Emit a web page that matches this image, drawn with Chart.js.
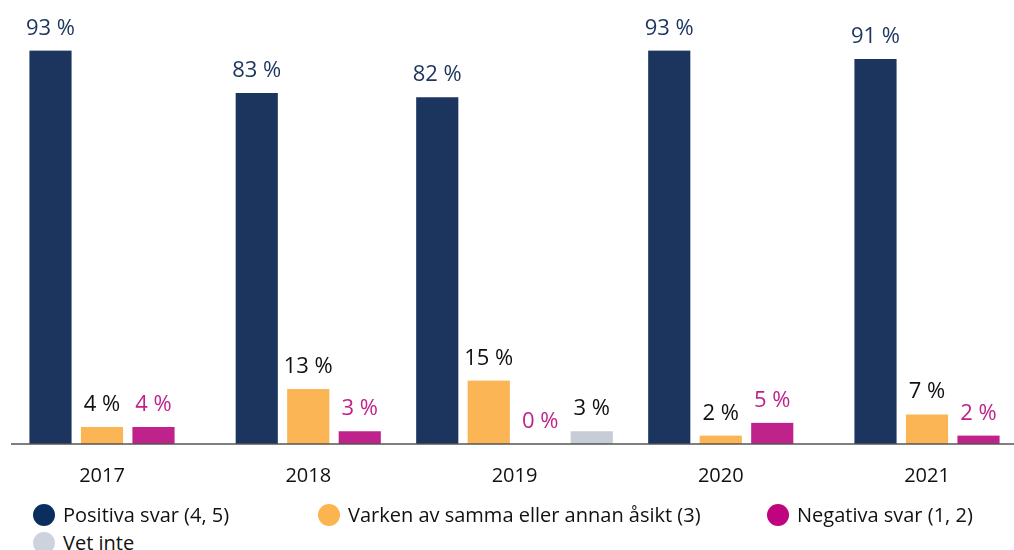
<!DOCTYPE html>
<html lang="sv">
<head>
  <meta charset="UTF-8" />
  <title>Svar per år</title>
  <script src="https://cdn.jsdelivr.net/npm/chart.js"></script>
  <style>
    body { margin: 0; background: #fff; font-family: "Open Sans", sans-serif; }
    #wrap { position: relative; width: 1014px; height: 550px; overflow: hidden; }
    #chart-box { position: absolute; left: 0; top: 0; width: 1014px; height: 520px; }
    #legend { position: absolute; left: 0; top: 502px; width: 1014px; }
    .item { position: absolute; display: flex; align-items: center; font-size: 20px; line-height: 26px; color: #111; white-space: nowrap; }
    .dot { width: 22px; height: 22px; border-radius: 50%; margin-right: 8px; }
  </style>
</head>
<body>
<div id="wrap">
  <div id="chart-box"><canvas id="chart"></canvas></div>
  <div id="legend"></div>
</div>

<script>
  // data
  const years = ["2017", "2018", "2019", "2020", "2021"];
  const positiva = [93, 83, 82, 93, 91];
  const varken   = [4, 13, 15, 2, 7];
  const negativa = [4, 3, 0, 5, 2];
  const vetInte  = [null, null, 3, null, null];

  const seriesNames  = ["Positiva svar (4, 5)", "Varken av samma eller annan åsikt (3)", "Negativa svar (1, 2)", "Vet inte"];
  const barColors    = ["#1c355e", "#fbb555", "#c0228b", "#c6cdd7"];
  const labelColors  = ["#1c355e", "#111111", "#c0228b", "#111111"];
  const legendColors = ["#0b2e5f", "#fbb44f", "#c0047f", "#cdd3dd"];

  // legend positions (left of dot, row top)
  const legendPos = [[33, 0], [318, 0], [767, 0], [33, 28]];

  const valueLabels = {
    id: "valueLabels",
    afterDatasetsDraw(chart) {
      const ctx = chart.ctx;
      ctx.save();
      ctx.font = "22px 'Open Sans', sans-serif";
      ctx.textAlign = "center";
      ctx.textBaseline = "alphabetic";
      chart.data.datasets.forEach((ds, i) => {
        chart.getDatasetMeta(i).data.forEach((bar, j) => {
          const v = ds.data[j];
          if (v === null) return;
          ctx.fillStyle = labelColors[i];
          ctx.fillText(v + " %", bar.x, bar.y - 16);
        });
      });
      // baseline across the full width
      const y0 = chart.scales.y.getPixelForValue(0);
      ctx.strokeStyle = "#555";
      ctx.lineWidth = 1.5;
      ctx.beginPath();
      ctx.moveTo(11, y0);
      ctx.lineTo(chart.width, y0);
      ctx.stroke();
      ctx.restore();
    }
  };

  const allData = [positiva, varken, negativa, vetInte];

  new Chart(document.getElementById("chart"), {
    type: "bar",
    data: {
      labels: years,
      datasets: allData.map((d, i) => ({
        label: seriesNames[i],
        data: d,
        backgroundColor: barColors[i],
        borderColor: "#ffffff",
        borderWidth: { left: 5, right: 5, top: 0, bottom: 0 },
        borderSkipped: "start",
        barThickness: 51.5,
        clip: false
      }))
    },
    options: {
      responsive: true,
      maintainAspectRatio: false,
      animation: false,
      skipNull: true,
      layout: { padding: { left: 102, right: 87, top: 21, bottom: 12 } },
      plugins: { legend: { display: false }, tooltip: { enabled: false } },
      scales: {
        x: {
          offset: false,
          grid: { display: false, drawTicks: false },
          border: { display: false },
          ticks: { color: "#111", padding: 20, font: { family: "'Open Sans'", size: 20 } }
        },
        y: { display: false, min: 0, max: 100 }
      }
    },
    plugins: [valueLabels]
  });

  const legend = document.getElementById("legend");
  seriesNames.forEach((name, i) => {
    const el = document.createElement("div");
    el.className = "item";
    el.style.left = legendPos[i][0] + "px";
    el.style.top = legendPos[i][1] + "px";
    el.innerHTML = `<span class="dot" style="background:${legendColors[i]}"></span><span>${name}</span>`;
    legend.appendChild(el);
  });
</script>
</body>
</html>
